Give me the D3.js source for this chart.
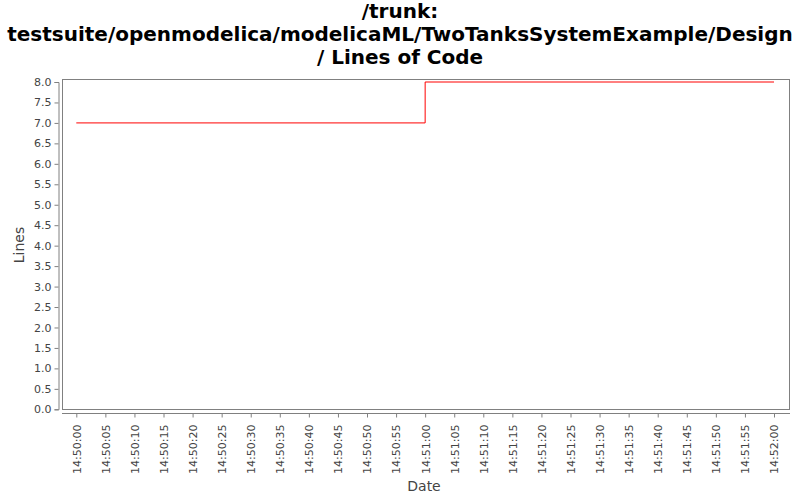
<!DOCTYPE html>
<html><head><meta charset="utf-8">
<script src="https://cdn.jsdelivr.net/npm/d3@7"></script>
<style>body{margin:0;background:#fff}svg{display:block}</style>
</head><body>
<svg id="c" width="800" height="500"></svg>
<script>
const titleLines = ["/trunk:", "testsuite/openmodelica/modelicaML/TwoTanksSystemExample/Design", "/ Lines of Code"];
const times = ["14:50:00", "14:51:00", "14:52:00"];
const values = [7, 8, 8];
const yTicks = [0,0.5,1,1.5,2,2.5,3,3.5,4,4.5,5,5.5,6,6.5,7,7.5,8];
const xLabel = "Date", yLabel = "Lines";

const svg = d3.select("#c");
const parse = d3.timeParse("%H:%M:%S");
const fmt = d3.timeFormat("%H:%M:%S");
const data = times.map((t,i)=>({t:parse(t), v:values[i]}));

const L=62, R=789, T=79, B=409.5;
const x = d3.scaleTime().domain([parse("14:50:00"), parse("14:52:00")]).range([76.3, 774]);
const y = d3.scaleLinear().domain([0,8]).range([409.3, 82]);

// titles
const ty=[18,41,64];
titleLines.forEach((s,i)=>svg.append("text").attr("x",400).attr("y",ty[i]).attr("text-anchor","middle")
  .attr("font-family","DejaVu Sans").attr("font-weight","bold").attr("font-size",20).attr("fill","#000").text(s));

// plot frame
svg.append("rect").attr("x",L+0.5).attr("y",T+0.5).attr("width",R-L).attr("height",B-T-0.5)
  .attr("fill","#fff").attr("stroke","#808080").attr("stroke-width",1);

// y axis
const ya = svg.append("g").attr("transform","translate(58.5,0)")
  .call(d3.axisLeft(y).tickValues(yTicks).tickFormat(d3.format(".1f")).tickSizeOuter(0).tickSize(4).tickPadding(3));
ya.select(".domain").attr("stroke","#808080");
ya.selectAll(".tick line").attr("stroke","#808080");
ya.selectAll("text").attr("font-family","DejaVu Sans").attr("font-size",11).attr("fill","#444");

// x axis
const xTicks = d3.timeSecond.every(5).range(parse("14:50:00"), d3.timeSecond.offset(parse("14:52:00"),1));
const xa = svg.append("g").attr("transform","translate(0,413.5)")
  .call(d3.axisBottom(x).tickValues(xTicks).tickFormat(fmt).tickSizeOuter(0).tickSize(4));
xa.select(".domain").attr("stroke","#808080").attr("d",`M${L},0H${R+1}`);
xa.selectAll(".tick line").attr("stroke","#808080");
xa.selectAll("text").attr("font-family","DejaVu Sans").attr("font-size",11).attr("fill","#444")
  .attr("text-anchor","end").attr("transform","rotate(-90)").attr("x",-11).attr("y",0).attr("dy","0.35em");

// line
const line = d3.line().x(d=>x(d.t)).y(d=>y(d.v)).curve(d3.curveStepAfter);
svg.append("path").datum(data).attr("d",line).attr("fill","none").attr("stroke","#ff0000").attr("stroke-width",1);

// axis labels
svg.append("text").attr("x",424).attr("y",491).attr("text-anchor","middle")
  .attr("font-family","DejaVu Sans").attr("font-size",14).attr("fill","#444").text(xLabel);
svg.append("text").attr("transform","translate(24,245) rotate(-90)").attr("text-anchor","middle")
  .attr("font-family","DejaVu Sans").attr("font-size",14).attr("fill","#444").text(yLabel);
</script>
</body></html>
